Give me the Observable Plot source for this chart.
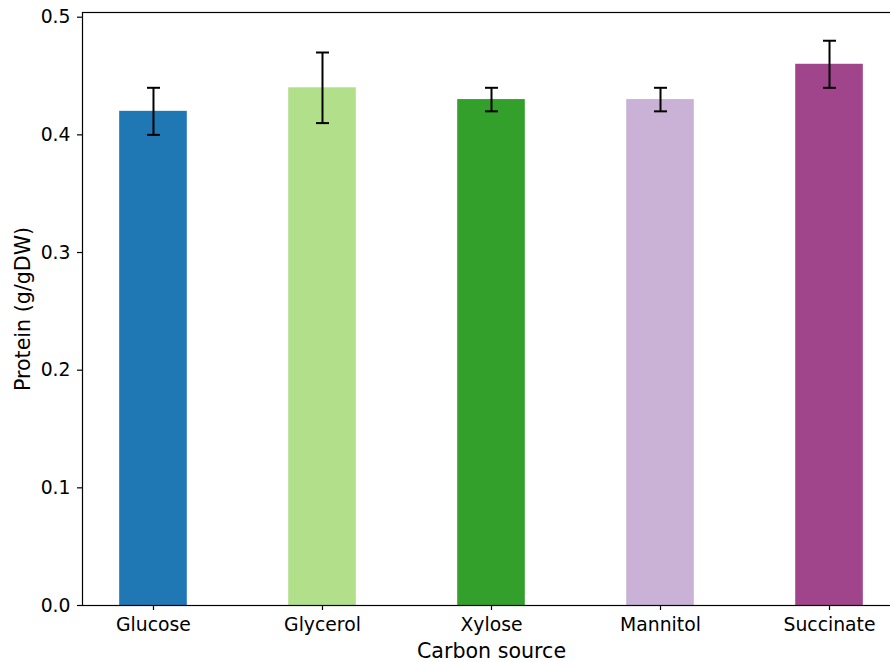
<!DOCTYPE html>
<html>
<head>
<meta charset="utf-8">
<script src="https://cdn.jsdelivr.net/npm/d3@7"></script>
<script src="https://cdn.jsdelivr.net/npm/@observablehq/plot@0.6"></script>
<style>
  html, body { margin: 0; padding: 0; background: #fff; }
  #chart { width: 890px; height: 662px; overflow: hidden; }
  #chart svg { overflow: hidden; }
</style>
</head>
<body>
<div id="chart"></div>
<script>
const categories = ["Glucose", "Glycerol", "Xylose", "Mannitol", "Succinate"];
const values = [0.42, 0.44, 0.43, 0.43, 0.46];
const errors = [0.02, 0.03, 0.01, 0.01, 0.02];
const colors = ["#1f77b4", "#b2df8a", "#33a02c", "#cab2d6", "#a0448c"];
const yTicks = [0, 0.1, 0.2, 0.3, 0.4, 0.5];
const xLabel = "Carbon source";
const yLabel = "Protein (g/gDW)";

const data = categories.map((c, i) => ({
  name: c, i, value: values[i], lo: values[i] - errors[i], hi: values[i] + errors[i], color: colors[i]
}));

const capSymbol = {
  draw(context, size) {
    const w = Math.sqrt(size / Math.PI);
    context.moveTo(-w, 0);
    context.lineTo(w, 0);
  }
};

const FONT = 18.8;
const LABEL_FONT = 20.6;

const chart = Plot.plot({
  width: 890,
  height: 662,
  marginLeft: 82,
  marginRight: -10,
  marginTop: 12,
  marginBottom: 57,
  style: { fontFamily: "DejaVu Sans", fontSize: FONT + "px", color: "#000", background: "#fff" },
  x: { type: "linear", domain: [-0.42, 4.42] },
  y: { domain: [0, 0.504] },
  marks: [
    Plot.rectY(data, { x1: d => d.i - 0.2, x2: d => d.i + 0.2, y1: 0, y2: "value", fill: "color" }),
    Plot.ruleX(data, { x: "i", y1: "lo", y2: "hi", stroke: "#000", strokeWidth: 2 }),
    Plot.dot(data, { x: "i", y: "hi", symbol: capSymbol, r: 6.5, stroke: "#000", strokeWidth: 2, fill: "none" }),
    Plot.dot(data, { x: "i", y: "lo", symbol: capSymbol, r: 6.5, stroke: "#000", strokeWidth: 2, fill: "none" }),
    Plot.frame({ stroke: "#000", strokeWidth: 1.2 }),
    Plot.axisY({
      ticks: yTicks, tickFormat: d3.format(".1f"), tickSize: 5, tickPadding: 7,
      fontSize: FONT, stroke: "#000", strokeWidth: 1.2, label: null
    }),
    Plot.axisX({
      ticks: [0, 1, 2, 3, 4], tickFormat: i => categories[i], tickSize: 5, tickPadding: 7,
      fontSize: FONT, stroke: "#000", strokeWidth: 1.2, label: null
    }),
    Plot.text([yLabel], {
      text: d => d, frameAnchor: "left", rotate: -90, textAnchor: "middle", lineAnchor: "top", dx: -67,
      fontSize: LABEL_FONT, fill: "#000"
    }),
    Plot.text([xLabel], {
      text: d => d, frameAnchor: "bottom", textAnchor: "middle", lineAnchor: "top", dy: 38,
      fontSize: LABEL_FONT, fill: "#000"
    })
  ]
});

document.getElementById("chart").appendChild(chart);
</script>
</body>
</html>
